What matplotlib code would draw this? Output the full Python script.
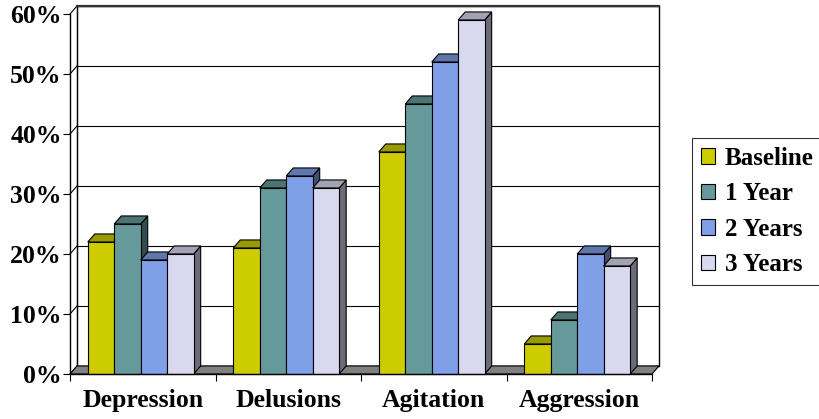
import matplotlib
matplotlib.use("Agg")
import matplotlib.pyplot as plt
from matplotlib.patches import Polygon, Rectangle, Patch
from matplotlib.colors import to_rgb

categories = ["Depression", "Delusions", "Agitation", "Aggression"]
series = ["Baseline", "1 Year", "2 Years", "3 Years"]
baseline = [22, 21, 37, 5]
year1 = [25, 31, 45, 9]
year2 = [19, 33, 52, 20]
year3 = [20, 31, 59, 18]
colors = ["#CCCC00", "#669999", "#7F9FE6", "#D8D8EE"]
yticks = [0, 10, 20, 30, 40, 50, 60]

values = [baseline, year1, year2, year3]

plt.rcParams["font.family"] = ["Liberation Serif", "DejaVu Serif"]
plt.rcParams["font.weight"] = "bold"

fig = plt.figure(figsize=(8.19, 4.19), dpi=100)
ax = fig.add_axes([0.0855, 0.1074, 0.7106, 0.8592])
ax.set_xlim(0, len(categories))
ax.set_ylim(0, 60)

# depth of the 3-D box in data units
dx, dy = 0.048, 1.34
ncat = len(categories)
ymax = yticks[-1]


def shade(c, f):
    r, g, b = to_rgb(c)
    return (r * f, g * f, b * f)


# back wall with gridlines
ax.add_patch(Rectangle((dx, dy), ncat, ymax, facecolor="white",
                       edgecolor="black", lw=1.0, clip_on=False, zorder=1))
for t in yticks:
    ax.plot([dx, ncat + dx], [t + dy, t + dy], color="black", lw=0.8,
            clip_on=False, zorder=1)
    ax.plot([0, dx], [t, t + dy], color="black", lw=0.8,
            clip_on=False, zorder=1)
ax.plot([dx, dx], [dy, ymax + dy], color="black", lw=0.8, clip_on=False, zorder=1)
ax.plot([dx, ncat + dx], [ymax + dy, ymax + dy], color="#333333", lw=1.6,
        clip_on=False, zorder=1)

# floor
ax.add_patch(Polygon([(0, 0), (ncat, 0), (ncat + dx, dy), (dx, dy)],
                     closed=True, facecolor="#808080", edgecolor="black",
                     lw=0.8, clip_on=False, zorder=2))

# bars
bw = 0.182
start = 0.122
z = 3
for ci in range(ncat):
    for si, vals in enumerate(values):
        v = vals[ci]
        x = ci + start + si * bw
        c = colors[si]
        front = Rectangle((x, 0), bw, v, facecolor=c, edgecolor="black",
                          lw=0.8, zorder=z + 2)
        top = Polygon([(x, v), (x + bw, v), (x + bw + dx, v + dy), (x + dx, v + dy)],
                      closed=True, facecolor=shade(c, 0.75), edgecolor="black",
                      lw=0.8, zorder=z + 1)
        side = Polygon([(x + bw, 0), (x + bw + dx, dy), (x + bw + dx, v + dy), (x + bw, v)],
                       closed=True, facecolor=shade(c, 0.5), edgecolor="black",
                       lw=0.8, zorder=z)
        for p in (side, top, front):
            p.set_clip_on(False)
            ax.add_patch(p)
        z += 3

# axes spines and ticks
for s in ("top", "right"):
    ax.spines[s].set_visible(False)
ax.spines["left"].set_linewidth(1.0)
ax.spines["bottom"].set_linewidth(1.0)
ax.spines["left"].set_zorder(200)
ax.spines["bottom"].set_zorder(200)
ax.set_yticks(yticks)
ax.set_yticklabels([f"{t}%" for t in yticks], fontsize=18.5, fontweight="bold")
ax.tick_params(axis="y", length=5, width=0.8, pad=1)
ax.set_xticks(range(ncat + 1))
ax.set_xticklabels([])
ax.set_xticks([i + 0.5 for i in range(ncat)], minor=True)
ax.set_xticklabels(categories, minor=True, fontsize=18.5, fontweight="bold")
ax.tick_params(axis="x", which="major", length=5, width=0.8)
ax.tick_params(axis="x", which="minor", length=0, pad=11)
ax.set_facecolor("none")
ax.patch.set_visible(False)

handles = [Patch(facecolor=c, edgecolor="black", lw=0.8) for c in colors]
leg = fig.legend(handles, series, loc="upper left",
                 bbox_to_anchor=(692 / 819, (419 - 138) / 419),
                 prop={"family": "Liberation Serif", "weight": "bold", "size": 18},
                 frameon=True, fancybox=False, handlelength=0.56,
                 handleheight=0.56, handletextpad=0.4, labelspacing=0.5,
                 borderpad=0.35, borderaxespad=0)
leg.get_frame().set_edgecolor("black")
leg.get_frame().set_linewidth(0.8)

fig.savefig("out.png", dpi=100)
